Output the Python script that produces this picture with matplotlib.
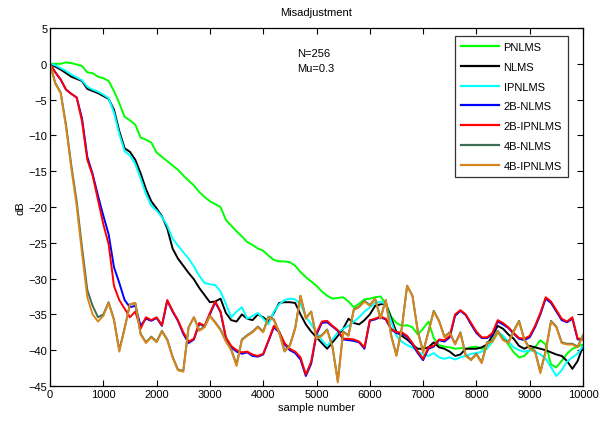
import numpy as np
import matplotlib
matplotlib.use("Agg")
import matplotlib.pyplot as plt

plt.rcParams["font.family"] = ["Liberation Sans Narrow", "Liberation Sans", "DejaVu Sans"]

# sample numbers (every 100 samples)
samples = np.arange(0, 10001, 100)

# misadjustment curves in dB
pnlms = [
    0, 0, 0, 0.2, 0.1, -0.1, -0.3, -1.2, -1.3, -1.8,
    -2.0, -2.4, -3.8, -5.5, -7.4, -7.9, -8.5, -10.3, -10.6, -11.0,
    -12.4, -13.0, -13.6, -14.2, -14.8, -15.6, -16.3, -17.0, -17.9, -18.6,
    -19.2, -19.6, -20.0, -21.8, -22.6, -23.4, -24.1, -24.9, -25.3, -25.8,
    -26.1, -26.8, -27.4, -27.6, -27.6, -27.7, -28.2, -29.1, -29.8, -30.4,
    -31.0, -31.8, -32.4, -32.8, -32.7, -32.6, -33.2, -34.0, -33.5, -32.9,
    -32.8, -32.6, -32.5, -33.5, -35.3, -36.2, -36.6, -36.5, -36.8, -37.8,
    -37.0, -36.0, -38.3, -39.3, -39.5, -39.6, -39.8, -39.7, -39.8, -39.6,
    -39.5, -39.8, -39.7, -38.8, -37.6, -38.2, -39.2, -40.3, -41.0, -40.8,
    -40.0, -39.6, -38.6, -39.2, -42.0, -42.4, -41.5, -40.5, -39.8, -39.5,
    -39.2,
]

nlms = [
    0, -0.4, -0.8, -1.3, -1.8, -2.1, -2.4, -3.5, -3.8, -4.1,
    -4.5, -4.9, -6.4, -9.4, -11.8, -12.3, -13.4, -15.3, -17.5, -19.2,
    -20.2, -21.3, -23.0, -25.8, -27.2, -28.2, -29.2, -30.1, -31.3, -32.3,
    -33.3, -33.2, -32.8, -34.8, -35.8, -36.0, -35.0, -35.6, -35.8, -35.0,
    -35.4, -36.0, -34.8, -33.4, -33.3, -33.3, -33.4, -35.0, -36.4, -37.4,
    -38.2, -39.0, -39.8, -38.9, -38.0, -37.0, -35.6, -36.2, -36.4, -35.8,
    -35.0, -33.8, -33.6, -33.5, -35.5, -37.5, -38.0, -38.5, -39.2, -39.8,
    -39.8, -39.6, -38.9, -39.6, -39.8, -40.2, -40.8, -40.6, -39.8, -39.8,
    -39.8, -39.6, -39.2, -38.0, -36.6, -37.0, -37.8, -38.4, -39.4, -39.8,
    -39.4, -39.6, -39.8, -40.0, -40.3, -40.6, -40.8, -41.5, -42.6, -41.5,
    -39.4,
]

ipnlms = [
    0, -0.2, -0.6, -1.0, -1.5, -1.9, -2.3, -3.2, -3.6, -3.9,
    -4.3, -4.8, -6.8, -9.8, -12.2, -12.8, -14.0, -16.0, -18.2, -19.8,
    -20.5, -21.4, -22.6, -24.4, -25.4, -26.3, -27.2, -28.3, -29.6, -30.6,
    -30.8, -30.9, -31.8, -33.5, -35.4, -34.6, -34.0, -35.6, -35.2, -34.8,
    -35.6, -36.4, -34.6, -33.6, -33.0, -32.8, -32.9, -33.6, -35.3, -36.4,
    -37.5, -38.6, -39.4, -38.5, -37.5, -37.0, -36.6, -36.0, -35.4, -34.6,
    -34.0, -33.4, -33.2, -33.6, -36.0, -38.0, -38.8, -39.3, -39.6, -40.2,
    -40.6, -40.8, -40.4, -41.0, -41.2, -41.0, -41.3, -41.0, -40.8, -40.5,
    -40.4, -40.2, -39.8, -38.6, -37.4, -38.0, -38.8, -39.6, -40.0, -40.2,
    -40.0, -40.2, -40.6, -41.2, -42.4, -43.6, -42.8, -41.6, -41.0, -40.5,
    -39.4,
]

nlms_2b = [
    0, -1.2, -2.2, -3.6, -4.2, -4.7, -7.6, -13.0, -15.4, -18.4,
    -21.2, -23.8, -28.4, -30.6, -33.0, -34.0, -33.8, -36.6, -35.6, -35.9,
    -35.5, -36.6, -33.1, -34.6, -35.9, -37.7, -39.0, -38.5, -36.3, -36.7,
    -35.0, -33.3, -34.7, -38.3, -39.6, -40.2, -40.5, -40.3, -40.8, -40.9,
    -40.6, -38.7, -36.8, -37.5, -39.2, -40.0, -40.4, -41.3, -43.6, -41.9,
    -37.8, -36.2, -36.1, -36.7, -37.3, -38.5, -38.6, -38.7, -38.9, -39.8,
    -35.9, -35.7, -35.4, -35.7, -37.1, -37.6, -37.7, -38.1, -39.2, -40.4,
    -41.4, -39.8, -39.5, -38.6, -38.8, -38.2, -35.2, -34.5, -35.1, -36.4,
    -37.6, -38.3, -38.3, -37.8, -36.0, -36.4, -36.9, -37.7, -38.4, -38.6,
    -38.2, -36.8, -35.0, -32.8, -33.4, -34.6, -35.8, -36.1, -35.6, -38.5,
    -38.5,
]

ipnlms_2b = [
    0, -1.2, -2.2, -3.6, -4.2, -4.7, -8.0, -13.4, -15.6, -19.0,
    -22.4, -25.2, -31.0, -33.0, -34.2, -35.4, -34.6, -37.0, -35.4, -35.8,
    -35.4, -36.5, -33.0, -34.5, -35.8, -37.5, -38.8, -38.4, -36.2, -36.6,
    -34.8, -33.2, -34.6, -38.2, -39.4, -40.0, -40.3, -40.2, -40.6, -40.8,
    -40.5, -38.6, -36.6, -37.4, -39.0, -39.8, -40.2, -41.0, -43.4, -41.6,
    -37.6, -36.0, -35.9, -36.6, -37.2, -38.4, -38.4, -38.5, -38.8, -39.6,
    -35.8, -35.6, -35.3, -35.6, -37.0, -37.5, -37.5, -38.0, -39.0, -40.2,
    -41.2, -39.6, -39.4, -38.5, -38.6, -38.0, -35.0, -34.4, -35.0, -36.2,
    -37.4, -38.2, -38.2, -37.6, -35.8, -36.2, -36.8, -37.6, -38.3, -38.4,
    -38.0, -36.6, -34.8, -32.6, -33.2, -34.4, -35.6, -36.0, -35.4, -38.4,
    -38.4,
]

nlms_4b = [
    0, -2.7, -4.0, -8.5, -14.2, -19.2, -25.6, -31.6, -33.8, -35.4,
    -35.0, -33.3, -35.7, -40.0, -36.9, -33.6, -33.4, -37.7, -38.9, -38.1,
    -38.8, -37.3, -38.5, -40.9, -42.7, -42.9, -36.8, -35.4, -37.2, -36.7,
    -35.2, -36.1, -37.1, -38.7, -39.9, -42.0, -38.5, -37.9, -37.4, -36.7,
    -37.4, -35.3, -35.7, -37.5, -40.1, -39.3, -36.9, -32.4, -35.5, -34.6,
    -38.3, -37.9, -37.1, -39.5, -44.3, -37.4, -37.9, -34.3, -33.9, -33.1,
    -33.7, -32.8, -35.5, -33.0, -37.9, -40.7, -36.9, -31.0, -32.4, -37.3,
    -40.2, -37.4, -34.5, -35.9, -38.1, -37.5, -39.1, -37.5, -40.7, -41.3,
    -40.5, -41.7, -38.9, -38.7, -37.3, -38.5, -38.9, -37.3, -35.9, -38.5,
    -39.7, -40.1, -43.0, -40.1, -35.9, -36.7, -38.9, -39.1, -39.1, -39.5,
    -37.9,
]

ipnlms_4b = [
    0, -2.8, -4.1, -8.8, -14.6, -19.8, -26.4, -32.6, -35.0, -36.0,
    -35.2, -33.4, -35.8, -40.2, -37.0, -33.6, -33.4, -37.8, -39.0, -38.2,
    -38.9, -37.4, -38.6, -41.0, -42.8, -43.0, -36.8, -35.4, -37.3, -36.8,
    -35.2, -36.2, -37.2, -38.8, -40.0, -42.2, -38.6, -38.0, -37.5, -36.8,
    -37.5, -35.4, -35.8, -37.6, -40.2, -39.4, -37.0, -32.4, -35.6, -34.6,
    -38.4, -38.0, -37.2, -39.6, -44.5, -37.5, -38.0, -34.4, -34.0, -33.2,
    -33.8, -32.8, -35.6, -33.0, -38.0, -40.8, -37.0, -31.0, -32.4, -37.4,
    -40.3, -37.5, -34.6, -36.0, -38.2, -37.6, -39.2, -37.6, -40.8, -41.4,
    -40.6, -41.8, -39.0, -38.8, -37.4, -38.6, -39.0, -37.4, -36.0, -38.6,
    -39.8, -40.2, -43.2, -40.2, -36.0, -36.8, -39.0, -39.2, -39.2, -39.6,
    -38.0,
]

series = [
    ("PNLMS", pnlms, "#00ff00"),
    ("NLMS", nlms, "#000000"),
    ("IPNLMS", ipnlms, "#00ffff"),
    ("2B-NLMS", nlms_2b, "#0000ff"),
    ("2B-IPNLMS", ipnlms_2b, "#ff0000"),
    ("4B-NLMS", nlms_4b, "#3f6e57"),
    ("4B-IPNLMS", ipnlms_4b, "#d9861c"),
]

fig = plt.figure(figsize=(6.07, 4.27), dpi=100)
ax = fig.add_axes([50 / 607, 40 / 427, 533 / 607, 358 / 427])

for name, vals, col in series:
    ax.plot(samples, vals, color=col, lw=1.4, label=name)

ax.set_xlim(0, 10000)
ax.set_ylim(-45, 5)
ax.set_xticks(np.arange(0, 10001, 1000))
ax.set_yticks(np.arange(-45, 6, 5))
ax.tick_params(direction="in", top=True, right=True, length=4, width=0.8,
               labelsize=8, pad=2)
for sp in ax.spines.values():
    sp.set_linewidth(0.9)

ax.set_title("Misadjustment", fontsize=8, pad=9)
ax.set_xlabel("sample number", fontsize=8, labelpad=2)
ax.set_ylabel("dB", fontsize=8, labelpad=2)

ax.text(4634, 0.5, "N=256\nMu=0.3", fontsize=8, ha="left", va="center",
        linespacing=1.6)

leg = ax.legend(loc="upper right", bbox_to_anchor=(0.972, 0.978), fontsize=8,
                frameon=True, fancybox=False, edgecolor="black",
                handlelength=3.4, handletextpad=0.4, labelspacing=0.88,
                borderpad=0.55, borderaxespad=0)
leg.get_frame().set_linewidth(0.9)
for line in leg.get_lines():
    line.set_linewidth(1.6)

fig.savefig("out.png", dpi=100)
